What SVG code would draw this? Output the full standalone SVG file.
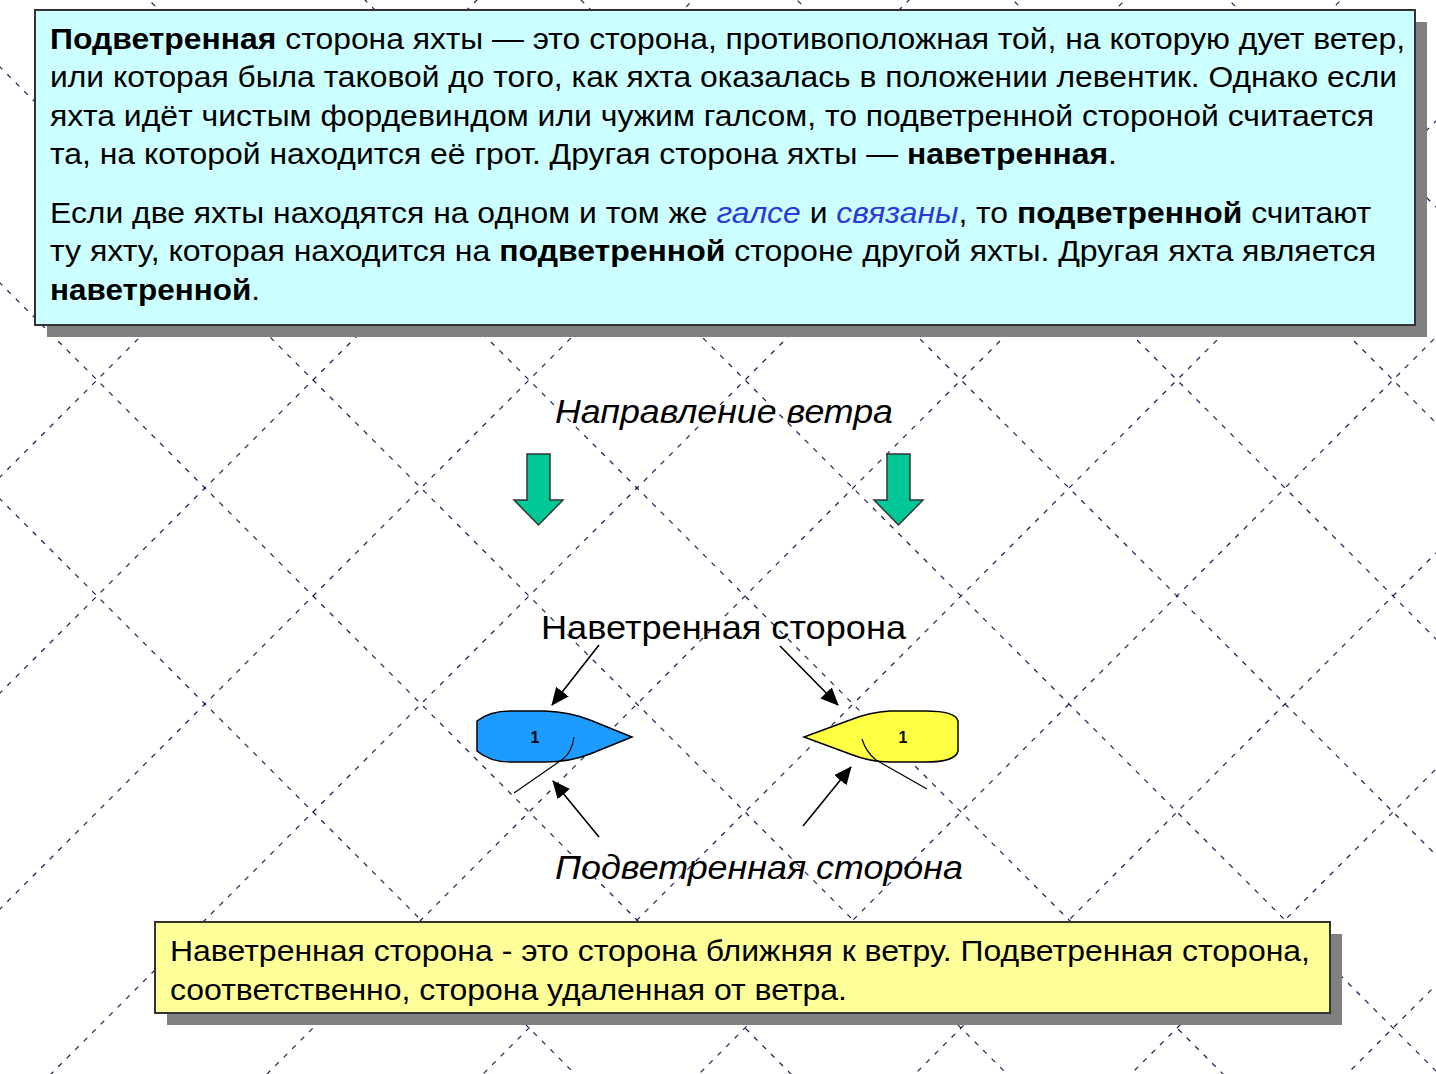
<svg xmlns="http://www.w3.org/2000/svg" width="1436" height="1074" viewBox="0 0 1436 1074">
<style>
text{font-family:"Liberation Sans",Arial,sans-serif;fill:#000}
.t{font-size:30px}
.b{font-weight:bold}
.l{fill:#2b3ad6;font-style:italic}
.grid line{stroke:#1a1a50;stroke-width:1.2;stroke-dasharray:5 7}
.ptr{stroke:#000;stroke-width:1.6;marker-end:url(#ah)}
</style>
<defs>
<marker id="ah" markerWidth="18" markerHeight="16" refX="17" refY="8" orient="auto" markerUnits="userSpaceOnUse" viewBox="0 0 18 16"><path d="M0,0L18,8L0,16z" fill="#000"/></marker>
</defs>
<rect width="1436" height="1074" fill="#fff"/>
<g class="grid">
<line x1="-400" y1="877" x2="1100" y2="-623"/>
<line x1="-400" y1="1093" x2="1100" y2="-407"/>
<line x1="-400" y1="1309" x2="1200" y2="-291"/>
<line x1="-400" y1="1525" x2="1300" y2="-175"/>
<line x1="-200" y1="1541" x2="1500" y2="-159"/>
<line x1="0" y1="1557" x2="1600" y2="-43"/>
<line x1="200" y1="1573" x2="1800" y2="-27"/>
<line x1="400" y1="1589" x2="2000" y2="-11"/>
<line x1="600" y1="1605" x2="2200" y2="5"/>
<line x1="800" y1="1621" x2="2400" y2="21"/>
<line x1="1000" y1="1637" x2="2600" y2="37"/>
<line x1="-400" y1="-117" x2="1600" y2="1883"/>
<line x1="-400" y1="-333" x2="1600" y2="1667"/>
<line x1="-400" y1="-549" x2="1600" y2="1451"/>
<line x1="-400" y1="-765" x2="1600" y2="1235"/>
<line x1="-200" y1="-781" x2="1800" y2="1219"/>
<line x1="0" y1="-797" x2="2000" y2="1203"/>
<line x1="200" y1="-813" x2="2200" y2="1187"/>
<line x1="400" y1="-829" x2="2400" y2="1171"/>
<line x1="-400" y1="99" x2="1600" y2="2099"/>
</g>
<g id="top-box">
<rect x="47" y="22" width="1380" height="315" fill="#808080"/>
<rect x="35" y="10" width="1380" height="315" fill="#ccffff" stroke="#333" stroke-width="2"/>
<text class="t" x="50" y="49" textLength="1355" lengthAdjust="spacingAndGlyphs"><tspan class="b">Подветренная</tspan> сторона яхты — это сторона, противоположная той, на которую дует ветер,</text>
<text class="t" x="50" y="87" textLength="1347" lengthAdjust="spacingAndGlyphs">или которая была таковой до того, как яхта оказалась в положении левентик. Однако если</text>
<text class="t" x="50" y="126" textLength="1324" lengthAdjust="spacingAndGlyphs">яхта идёт чистым фордевиндом или чужим галсом, то подветренной стороной считается</text>
<text class="t" x="50" y="164" textLength="1067" lengthAdjust="spacingAndGlyphs">та, на которой находится её грот. Другая сторона яхты — <tspan class="b">наветренная</tspan>.</text>
<text class="t" x="50" y="223" textLength="1321" lengthAdjust="spacingAndGlyphs">Если две яхты находятся на одном и том же <tspan class="l">галсе</tspan> и <tspan class="l">связаны</tspan>, то <tspan class="b">подветренной</tspan> считают</text>
<text class="t" x="50" y="261" textLength="1326" lengthAdjust="spacingAndGlyphs">ту яхту, которая находится на <tspan class="b">подветренной</tspan> стороне другой яхты. Другая яхта является</text>
<text class="t" x="50" y="300" textLength="210" lengthAdjust="spacingAndGlyphs"><tspan class="b">наветренной</tspan>.</text>
</g>
<g id="wind-label"><text x="555" y="423" font-style="italic" font-size="33" textLength="338" lengthAdjust="spacingAndGlyphs">Направление ветра</text></g>
<g id="wind-arrow-1"><path d="M527,454H550V500H563L538.5,525L514,500H527Z" fill="#00c896" stroke="#333" stroke-width="1.5"/></g>
<g id="wind-arrow-2"><path d="M887,454H910V500H923L898.5,525L874,500H887Z" fill="#00c896" stroke="#333" stroke-width="1.5"/></g>
<g id="windward-label"><text x="541" y="639" font-size="33" textLength="365" lengthAdjust="spacingAndGlyphs">Наветренная сторона</text></g>
<g id="leeward-label"><text x="555" y="879" font-size="33" font-style="italic" textLength="408" lengthAdjust="spacingAndGlyphs">Подветренная сторона</text></g>
<g id="boat-blue">
<path d="M477,721Q490,711 510,711H545Q570,712 590,720L632,737L590,754Q570,762 545,762H510Q490,762 477,751Z" fill="#1e9bff" stroke="#000" stroke-width="1.5"/>
<text x="535" y="743" font-size="16" font-weight="bold" text-anchor="middle">1</text>
<path d="M574,737Q572,752 563,759L514,793" fill="none" stroke="#000" stroke-width="1.2"/>
</g>
<g id="boat-yellow">
<path d="M958,721Q956,711 925,711H890Q870,712 850,720L804,737L850,754Q870,762 890,762H925Q956,762 958,751Z" fill="#ffff44" stroke="#000" stroke-width="1.5"/>
<text x="903" y="743" font-size="16" font-weight="bold" text-anchor="middle">1</text>
<path d="M862,739Q866,752 876,760L927,789" fill="none" stroke="#000" stroke-width="1.2"/>
</g>
<g id="connectors">
<line class="ptr" x1="599" y1="645" x2="552" y2="705"/>
<line class="ptr" x1="780" y1="646" x2="838" y2="705"/>
<line class="ptr" x1="599" y1="837" x2="553" y2="781"/>
<line class="ptr" x1="803" y1="826" x2="851" y2="767"/>
</g>
<g id="bottom-box">
<rect x="167" y="934" width="1175" height="91" fill="#808080"/>
<rect x="155" y="922" width="1175" height="91" fill="#ffff99" stroke="#333" stroke-width="2"/>
<text class="t" x="170" y="961" textLength="1140" lengthAdjust="spacingAndGlyphs">Наветренная сторона - это сторона ближняя к ветру. Подветренная сторона,</text>
<text class="t" x="170" y="1000" textLength="677" lengthAdjust="spacingAndGlyphs">соответственно, сторона удаленная от ветра.</text>
</g>
</svg>
